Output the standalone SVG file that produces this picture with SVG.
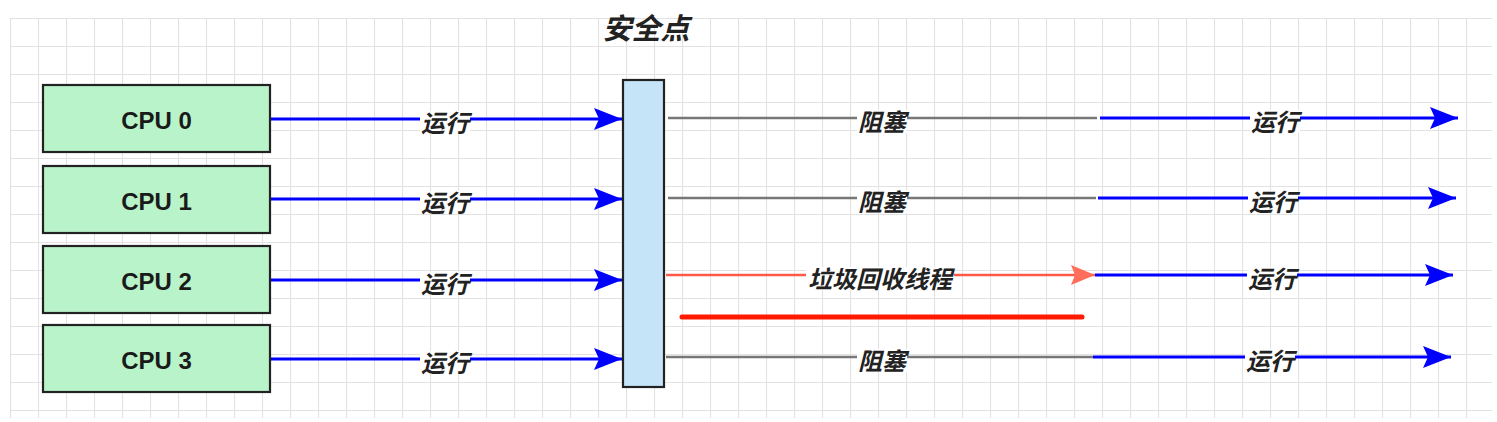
<svg xmlns="http://www.w3.org/2000/svg" width="1497" height="422" viewBox="0 0 1497 422">
<defs>
<pattern id="grid" x="10" y="18" width="28" height="28" patternUnits="userSpaceOnUse">
<path d="M0 0.5H28M0.5 0V28" fill="none" stroke="#e2e2e2" stroke-width="1.2"/>
</pattern>
<marker id="ab" markerUnits="userSpaceOnUse" markerWidth="30" markerHeight="24" refX="28" refY="11" orient="auto">
<path d="M0 0L28 11L0 22L5 11Z" fill="#0000ff"/>
</marker>
<marker id="ar" markerUnits="userSpaceOnUse" markerWidth="26" markerHeight="22" refX="24" refY="10" orient="auto">
<path d="M0 0L24 10L0 20L4 10Z" fill="#ff6e5a"/>
</marker>
</defs>
<style>
.cpu{fill:#b9f3c9;stroke:#222;stroke-width:2.2}
.ct{font-family:"Liberation Sans",Arial,sans-serif;font-weight:bold;font-size:24px;fill:#1a1a1a;text-anchor:middle}
.lbl{font-family:"Noto Sans CJK SC","Noto Sans",sans-serif;font-weight:bold;font-style:italic;font-size:24px;fill:#222;text-anchor:middle}
.bg{fill:#ffffff}
.blue{stroke:#0000ff;stroke-width:3;fill:none}
.grey{stroke:#777;stroke-width:2.5;fill:none}
.red{stroke:#ff5a48;stroke-width:2.5;fill:none}
</style>
<rect width="1497" height="422" fill="#ffffff"/>
<rect x="10" y="18" width="1482" height="400" fill="url(#grid)"/>
<g id="connectors">
<path class="blue" d="M270 119H622" marker-end="url(#ab)"/>
<path class="blue" d="M270 199H622" marker-end="url(#ab)"/>
<path class="blue" d="M270 280H622" marker-end="url(#ab)"/>
<path class="blue" d="M270 359H622" marker-end="url(#ab)"/>
<path class="grey" d="M668 118H1097"/>
<path class="grey" d="M668 198H1096"/>
<path class="red" d="M666 275H1095" marker-end="url(#ar)"/>
<path class="grey" d="M666 357H1093"/>
<path class="blue" d="M1100 118H1458" marker-end="url(#ab)"/>
<path class="blue" d="M1098 198H1456" marker-end="url(#ab)"/>
<path class="blue" d="M1095 275H1453" marker-end="url(#ab)"/>
<path class="blue" d="M1093 357H1451" marker-end="url(#ab)"/>
<path d="M682 317H1082" stroke="#ff1a00" stroke-width="5" stroke-linecap="round"/>
<g id="labels">
<rect class="bg" x="420" y="111" width="50" height="23"/><text class="lbl" x="445" y="132">运行</text>
<rect class="bg" x="420" y="191" width="50" height="23"/><text class="lbl" x="445" y="212">运行</text>
<rect class="bg" x="420" y="272" width="50" height="23"/><text class="lbl" x="445" y="293">运行</text>
<rect class="bg" x="420" y="351" width="50" height="23"/><text class="lbl" x="445" y="372">运行</text>
<rect class="bg" x="857" y="110" width="50" height="23"/><text class="lbl" x="882" y="131">阻塞</text>
<rect class="bg" x="857" y="190" width="50" height="23"/><text class="lbl" x="882" y="211">阻塞</text>
<rect class="bg" x="806" y="267" width="148" height="23"/><text class="lbl" x="880" y="288">垃圾回收线程</text>
<rect class="bg" x="857" y="349" width="50" height="23"/><text class="lbl" x="882" y="370">阻塞</text>
<rect class="bg" x="1250" y="110" width="50" height="23"/><text class="lbl" x="1275" y="131">运行</text>
<rect class="bg" x="1248" y="190" width="50" height="23"/><text class="lbl" x="1273" y="211">运行</text>
<rect class="bg" x="1247" y="267" width="50" height="23"/><text class="lbl" x="1272" y="288">运行</text>
<rect class="bg" x="1245" y="349" width="50" height="23"/><text class="lbl" x="1270" y="370">运行</text>
</g>
</g>
<g id="cpu0"><rect class="cpu" x="43" y="85" width="227" height="67"/><text class="ct" x="156.5" y="129">CPU 0</text></g>
<g id="cpu1"><rect class="cpu" x="43" y="166" width="227" height="67"/><text class="ct" x="156.5" y="210">CPU 1</text></g>
<g id="cpu2"><rect class="cpu" x="43" y="246" width="227" height="67"/><text class="ct" x="156.5" y="290">CPU 2</text></g>
<g id="cpu3"><rect class="cpu" x="43" y="325" width="227" height="67"/><text class="ct" x="156.5" y="369">CPU 3</text></g>
<g id="safepoint"><rect x="623" y="80" width="41" height="307" fill="#c5e4f8" stroke="#222" stroke-width="2.2"/></g>
<g id="title"><text x="646" y="39" font-family="Noto Sans CJK SC,Noto Sans,sans-serif" font-weight="bold" font-style="italic" font-size="29" fill="#222" text-anchor="middle">安全点</text></g>
</svg>
